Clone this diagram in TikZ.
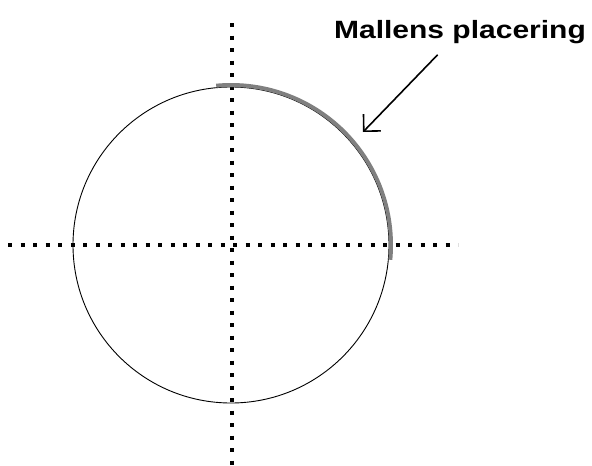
\documentclass[tikz,border=0pt]{standalone}
\usepackage{fontspec}
\setmainfont{Liberation Sans}
\usetikzlibrary{arrows.meta}
\begin{document}
\begin{tikzpicture}[x=1pt, y=-1pt,
    axis/.style={line width=4pt, dash pattern=on 4pt off 8.5pt},
    mall/.style={draw=gray, line width=4pt},
    pointer/.style={-{Straight Barb[length=12pt, width=24pt]}, line width=1.6pt, shorten <=11pt}]
    \useasboundingbox (0,0) rectangle (592,466);

    \draw [axis] (232,23) -- (232,466);
    \draw [axis] (8,245) -- (458,245);

    \node [circle, draw, line width=0.9pt, minimum size=316pt, inner sep=0pt] (ring) at (231,245) {};
    \draw [mall] (ring.center) ++(-95.3:160) arc [start angle=-95.3, end angle=5.3, radius=160];

    \node [anchor=base] (label) at (460,38) {\fontsize{25pt}{28pt}\selectfont\scalebox{1.2}[1]{\bfseries Mallens placering}};
    \coordinate (tip) at (363,132);
    \draw [pointer] (label) -- (tip);
\end{tikzpicture}
\end{document}
